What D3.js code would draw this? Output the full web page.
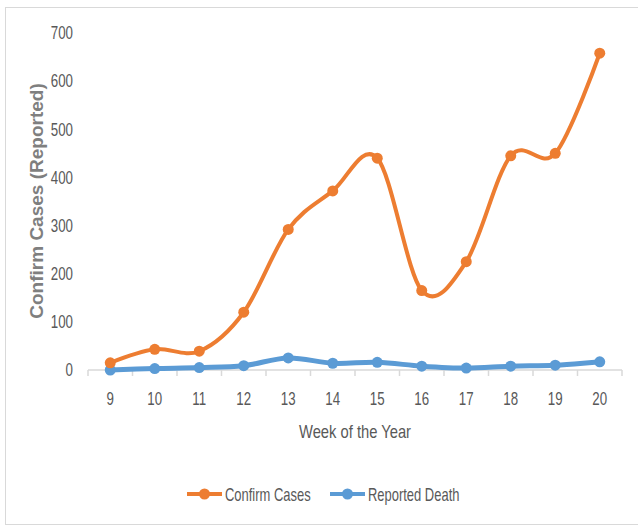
<!DOCTYPE html>
<html>
<head>
<meta charset="utf-8">
<script src="https://cdn.jsdelivr.net/npm/d3@7"></script>
<style>
  body { margin: 0; background: #fff; }
  text { font-family: "Liberation Sans", sans-serif; fill: #595959; }
</style>
</head>
<body>
<div class="canvas"></div>
<script>
var weeks = ["9", "10", "11", "12", "13", "14", "15", "16", "17", "18", "19", "20"];
var confirmCases = [15, 43, 39, 120, 292, 372, 440, 165, 225, 445, 450, 658];
var reportedDeath = [0, 3, 5, 9, 25, 14, 16, 8, 4, 8, 10, 17];
var yTicks = [0, 100, 200, 300, 400, 500, 600, 700];
var seriesNames = ["Confirm Cases", "Reported Death"];
var seriesColors = ["#ED7D31", "#5B9BD5"];

var width = 638, height = 527;

var svg = d3.select(".canvas")
            .append("svg")
            .attr("width", width)
            .attr("height", height);

// chart border
svg.append("rect")
   .attr("x", 5.5)
   .attr("y", 7.5)
   .attr("width", 660)
   .attr("height", 517)
   .attr("fill", "none")
   .attr("stroke", "#d9d9d9")
   .attr("stroke-width", 1);

var x = d3.scaleBand()
          .domain(weeks)
          .range([88, 622]);

var y = d3.scaleLinear()
          .domain([0, 700])
          .range([370, 33]);

// y axis labels
var yAxis = d3.axisLeft(y)
              .tickValues(yTicks)
              .tickSize(0)
              .tickPadding(0);

var gy = svg.append("g")
            .attr("transform", "translate(88,0)")
            .call(yAxis);
gy.select(".domain").remove();
gy.selectAll("text")
  .attr("x", null)
  .attr("transform", "translate(-15,0) scale(0.74,1)")
  .style("font-size", "18px")
  .style("font-family", null);

// x axis
var xAxis = d3.axisBottom(x).tickSize(0).tickPadding(0);
var gx = svg.append("g")
            .attr("transform", "translate(0,370)")
            .call(xAxis);
gx.select(".domain").attr("stroke", "#d9d9d9").attr("stroke-width", 1.5)
  .attr("d", "M88,0H622");
gx.selectAll("text")
  .attr("y", null)
  .attr("dy", null)
  .attr("transform", "translate(0,35) scale(0.74,1)")
  .style("font-size", "18px")
  .style("font-family", null);

// tick marks between categories
var bounds = weeks.map(function(w){ return x(w); }).concat([x.range()[1]]);
gx.selectAll(".sep")
  .data(bounds)
  .enter()
  .append("line")
  .attr("class", "sep")
  .attr("x1", function(d){ return d; })
  .attr("x2", function(d){ return d; })
  .attr("y1", 0)
  .attr("y2", 6)
  .attr("stroke", "#d9d9d9")
  .attr("stroke-width", 1.5);

// axis titles
svg.append("text")
   .attr("transform", "translate(43,201) rotate(-90)")
   .attr("text-anchor", "middle")
   .style("font-weight", "bold")
   .style("font-size", "19px")
   .style("fill", "#7f7f7f")
   .text("Confirm Cases (Reported)");

svg.append("text")
   .attr("transform", "translate(355,438) scale(0.82,1)")
   .attr("text-anchor", "middle")
   .style("font-size", "18px")
   .text("Week of the Year");

// lines
var line = d3.line()
             .x(function(d, i){ return x(weeks[i]) + x.bandwidth() / 2; })
             .y(function(d){ return y(d); })
             .curve(d3.curveCardinal.tension(0));

[reportedDeath, confirmCases].forEach(function(values, k){
  var idx = k === 0 ? 1 : 0;
  svg.append("path")
     .attr("d", line(values))
     .attr("fill", "none")
     .attr("stroke", seriesColors[idx])
     .attr("stroke-width", idx === 1 ? 5 : 4)
     .attr("stroke-linejoin", "round");

  svg.selectAll(".dot" + idx)
     .data(values)
     .enter()
     .append("circle")
     .attr("cx", function(d, i){ return x(weeks[i]) + x.bandwidth() / 2; })
     .attr("cy", function(d){ return y(d); })
     .attr("r", 5.5)
     .attr("fill", seriesColors[idx]);
});

// legend
var legendX = [187, 330];
seriesNames.forEach(function(name, i){
  var g = svg.append("g").attr("transform", "translate(" + legendX[i] + ",494)");
  g.append("line")
   .attr("x1", 0).attr("x2", 35)
   .attr("y1", 0).attr("y2", 0)
   .attr("stroke", seriesColors[i])
   .attr("stroke-width", 4);
  g.append("circle")
   .attr("cx", 17.5).attr("cy", 0).attr("r", 5.5)
   .attr("fill", seriesColors[i]);
  g.append("text")
   .attr("transform", "translate(38,6.5) scale(0.72,1)")
   .style("font-size", "18px")
   .text(name);
});
</script>
</body>
</html>
